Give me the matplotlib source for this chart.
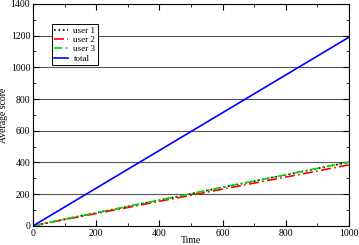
import matplotlib.pyplot as plt
from matplotlib.ticker import MultipleLocator

# data
time = [0, 100, 200, 300, 400, 500, 600, 700, 800, 900, 1000]
user1 = [0, 42, 82, 122, 162, 202, 243, 282, 322, 362, 402]
user2 = [0, 40, 78, 116, 155, 193, 232, 270, 308, 346, 385]
user3 = [0, 43, 83, 123, 163, 203, 244, 283, 323, 363, 403]
total = [0, 119, 238, 357, 476, 595, 714, 833, 952, 1071, 1190]

plt.rcParams['font.family'] = ['Liberation Serif', 'DejaVu Serif']

fig = plt.figure(figsize=(3.59, 2.45), dpi=100)
ax = fig.add_axes([0.092, 0.078, 0.88, 0.906])

for y in range(200, 1400, 200):
    ax.axhline(y, color='#555555', linewidth=0.8, zorder=0)

ax.plot(time, user1, color='black', linestyle=':', linewidth=1.2, label='user 1')
ax.plot(time, user2, color='red', linestyle=(0, (6, 2, 1, 2)), linewidth=1.2, label='user 2')
ax.plot(time, user3, color='#00dd00', linestyle=(0, (5, 2, 1, 2)), linewidth=1.2, label='user 3')
ax.plot(time, total, color='blue', linestyle='-', linewidth=1.2, label='total')

ax.set_xlim(0, 1000)
ax.set_ylim(0, 1400)
ax.xaxis.set_major_locator(MultipleLocator(200))
ax.xaxis.set_minor_locator(MultipleLocator(100))
ax.yaxis.set_major_locator(MultipleLocator(200))
ax.yaxis.set_minor_locator(MultipleLocator(100))
ax.tick_params(which='both', direction='in', top=True, right=True, labelsize=7, pad=2)
ax.tick_params(which='major', length=4)
ax.tick_params(which='minor', length=2)

ax.set_xlabel('Time', fontsize=7, labelpad=-1)
ax.set_ylabel('Average score', fontsize=7, labelpad=2)

leg = ax.legend(loc='upper left', bbox_to_anchor=(0.045, 0.93), fontsize=6.5, frameon=True,
                fancybox=False, edgecolor='black', framealpha=1, handlelength=1.5,
                handletextpad=0.6, borderpad=0.3, labelspacing=0.1)
leg.get_frame().set_linewidth(0.7)

plt.savefig('out.png', dpi=100)
